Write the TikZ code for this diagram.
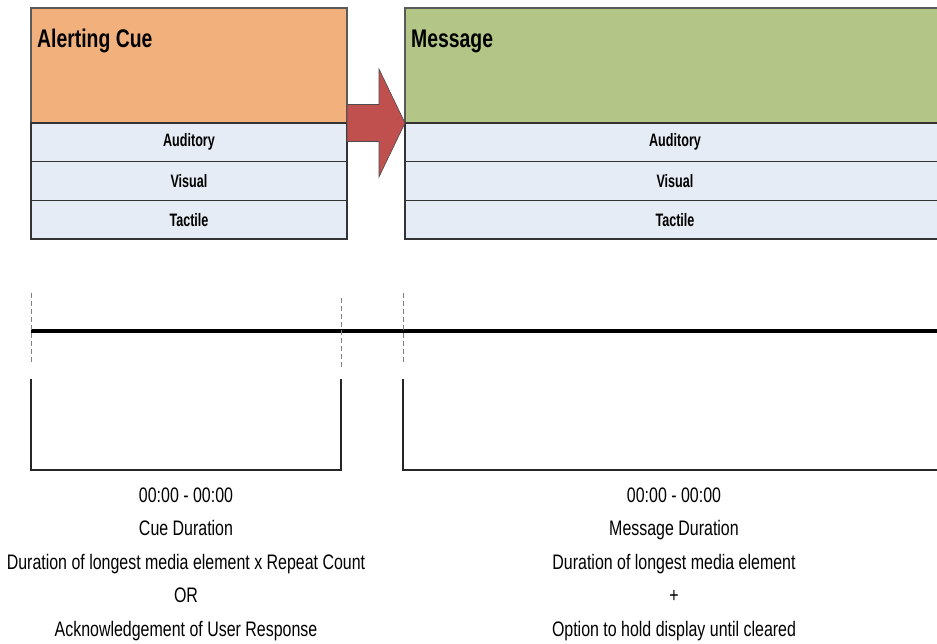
\documentclass[tikz,border=0pt]{standalone}
\usepackage{fontspec}
\setmainfont[FakeStretch=0.76]{Liberation Sans}
\newfontfamily\rowfont[FakeStretch=0.70]{Liberation Sans}
\usetikzlibrary{positioning,calc}

\definecolor{cuefill}{HTML}{F2B07C}
\definecolor{msgfill}{HTML}{B3C587}
\definecolor{rowfill}{HTML}{E6ECF5}
\definecolor{arrowred}{HTML}{C0504D}

\tikzset{
  headbox/.style={draw=black!65, line width=1.5pt, outer sep=0pt, inner sep=0pt,
    minimum height=115pt, anchor=north west},
  rowbox/.style={draw=black!80, line width=1.5pt, outer sep=0pt, inner sep=0pt,
    fill=rowfill, minimum height=38.7pt, anchor=north,
    font=\rowfont\fontsize{18pt}{20pt}\selectfont\bfseries},
  headtxt/.style={anchor=base west, inner sep=0pt,
    font=\fontsize{25.5pt}{28pt}\selectfont\bfseries},
  cuearrow/.style={fill=arrowred, draw=black!70, line width=0.6pt},
  tick/.style={draw=black!50, line width=1pt, dash pattern=on 5pt off 3pt},
  bracket/.style={draw=black!85, line width=1.8pt},
  durtext/.style={align=center, inner sep=0pt,
    font=\fontsize{21pt}{33.5pt}\selectfont}
}

\begin{document}
\begin{tikzpicture}[x=1pt, y=1pt]
    \clip (0,0) rectangle (937,644);
    % Boxes
    \node[headbox, fill=cuefill, minimum width=316pt] (cue) at (31,636) {};
    \node[headbox, fill=msgfill, minimum width=540pt] (msg) at (405,636) {};
    \node[headtxt] (cuetitle) at ([xshift=6pt, yshift=-40pt]cue.north west) {Alerting Cue};
    \node[headtxt] (msgtitle) at ([xshift=6pt, yshift=-40pt]msg.north west) {Message};
    % Media rows
    \foreach \b/\w in {cue/316, msg/540}
        \foreach \t [count=\i] in {Auditory, Visual, Tactile}
            \node[rowbox, minimum width=\w pt] (\b\i) at ([yshift={-38.7pt*(\i-1)}]\b.south) {\t};
    % Arrow
    \draw[cuearrow] ([yshift=18.5pt]cue.south east)
        -- ([xshift=-26pt, yshift=18.5pt]msg.south west)
        -- ([xshift=-26pt, yshift=54pt]msg.south west)
        -- (msg.south west)
        -- ([xshift=-26pt, yshift=-54pt]msg.south west)
        -- ([xshift=-26pt, yshift=-18.5pt]msg.south west)
        -- ([yshift=-18.5pt]cue.south east) -- cycle;
    % Timeline
    \coordinate (t0) at (31,313);
    \coordinate (t1) at (341,313);
    \coordinate (t2) at (403,313);
    \coordinate (t3) at (945,313);
    \draw[line width=4pt] (t0) -- (t3);
    \foreach \p/\s in {t0/0, t1/-5, t2/0}
        \draw[tick] ([yshift={38pt+\s pt}]\p) -- ([yshift={-32pt+\s pt}]\p);
    % Brackets
    \draw[bracket] ([yshift=-48pt]t0) -- ([yshift=-139pt]t0) -- ([yshift=-139pt]t1) -- ([yshift=-48pt]t1);
    \draw[bracket] ([yshift=-48pt]t2) -- ([yshift=-139pt]t2) -- ([yshift=-139pt]t3) -- ([yshift=-48pt]t3);
    % Durations
    \node[durtext] (cuedur) at ($(t0)!0.5!(t1)+(0,-233)$)
        {00:00 - 00:00\\Cue Duration\\Duration of longest media element x Repeat Count\\OR\\Acknowledgement of User Response};
    \node[durtext] (msgdur) at ($(t2)!0.5!(t3)+(0,-233)$)
        {00:00 - 00:00\\Message Duration\\Duration of longest media element\\+\\Option to hold display until cleared};
\end{tikzpicture}
\end{document}
